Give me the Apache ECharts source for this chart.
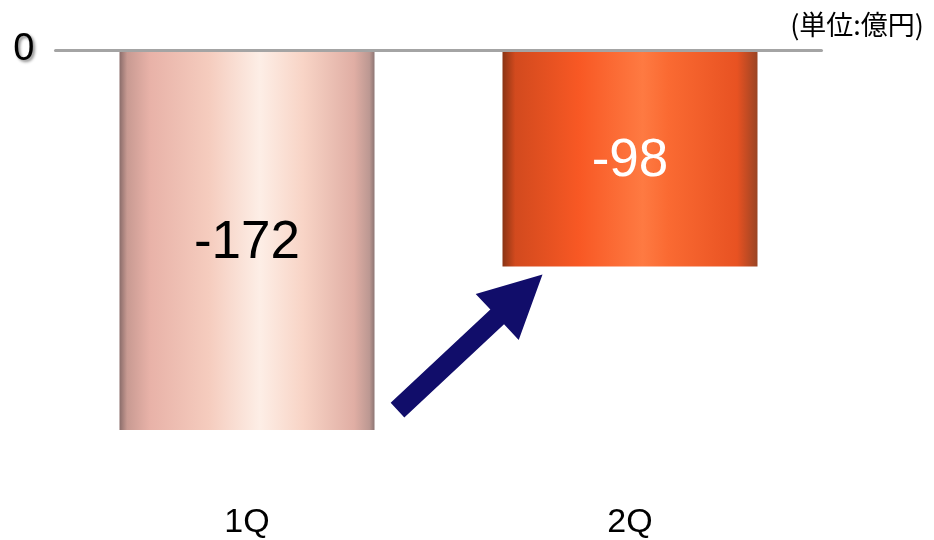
<!DOCTYPE html>
<html>
<head>
<meta charset="utf-8">
<script src="https://cdn.jsdelivr.net/npm/echarts@6/dist/echarts.min.js"></script>
<style>html,body{margin:0;padding:0;background:#fff}#c{width:934px;height:540px}</style>
</head>
<body>
<div id="c"></div>
<script>
var categories = ['1Q', '2Q'];
var values = [-172, -98];
var unitText = '(単位:億円)';
var yTickLabels = ['0'];

var chart = echarts.init(document.getElementById('c'), null, {renderer: 'canvas'});

var grad1 = new echarts.graphic.LinearGradient(0, 0, 1, 0, [
  {offset: 0, color: '#8a6c6a'},
  {offset: 0.03, color: '#c89a92'},
  {offset: 0.12, color: '#e8b2a8'},
  {offset: 0.35, color: '#f5ccbe'},
  {offset: 0.55, color: '#fdeee6'},
  {offset: 0.72, color: '#f8d4c6'},
  {offset: 0.92, color: '#e0aea4'},
  {offset: 0.98, color: '#bc9892'},
  {offset: 1, color: '#8e7674'}
]);
var grad2 = new echarts.graphic.LinearGradient(0, 0, 1, 0, [
  {offset: 0, color: '#8a3414'},
  {offset: 0.05, color: '#d24a1e'},
  {offset: 0.3, color: '#f85824'},
  {offset: 0.55, color: '#fe7a42'},
  {offset: 0.65, color: '#fa6a32'},
  {offset: 0.92, color: '#e85222'},
  {offset: 1, color: '#9a4424'}
]);
var fills = [grad1, grad2];
var labelColors = ['#000000', '#ffffff'];

var option = {
  animation: false,
  backgroundColor: '#ffffff',
  title: {
    text: unitText,
    right: 5,
    top: 6,
    textStyle: {fontFamily: '"Noto Sans CJK JP", "Liberation Sans", sans-serif', fontSize: 27, fontWeight: 'normal', color: '#000'}
  },
  grid: {left: 55.5, right: 112.5, top: 50, bottom: 46},
  xAxis: [{
    type: 'category',
    data: categories,
    position: 'bottom',
    axisLine: {show: false, onZero: false},
    axisTick: {show: false},
    axisLabel: {margin: 14, fontSize: 34, color: '#000', fontFamily: '"Liberation Sans", Arial, sans-serif'}
  }, {
    type: 'category',
    data: categories,
    position: 'top',
    axisLine: {show: true, onZero: false, lineStyle: {color: '#a4a4a4', width: 3}},
    axisTick: {show: false},
    axisLabel: {show: false},
    z: 10
  }],
  yAxis: {
    type: 'value',
    min: -200,
    max: 0,
    interval: 200,
    splitLine: {show: false},
    axisLine: {show: false},
    axisTick: {show: false},
    axisLabel: {
      margin: 21,
      fontSize: 38,
      color: '#000',
      fontFamily: '"Liberation Sans", Arial, sans-serif',
      textShadowColor: 'rgba(0,0,0,0.45)',
      textShadowBlur: 3,
      textShadowOffsetX: 2,
      textShadowOffsetY: 2,
      formatter: function (v) { return v === 0 ? yTickLabels[0] : ''; }
    }
  },
  series: [{
    type: 'bar',
    barWidth: 255,
    data: values.map(function (v, i) {
      return {
        value: v,
        itemStyle: {color: fills[i]},
        label: {
          show: true,
          position: 'inside',
          offset: [0, 3],
          color: labelColors[i],
          fontSize: 53,
          fontFamily: '"Liberation Sans", Arial, sans-serif'
        }
      };
    })
  }]
};
chart.setOption(option);

// Arrow annotation anchored to the bars
var barW = 255;
var p1 = chart.convertToPixel({xAxisIndex: 0, yAxisIndex: 0}, [categories[0], values[0]]);
var p2 = chart.convertToPixel({xAxisIndex: 0, yAxisIndex: 0}, [categories[1], values[1]]);
var tail = [p1[0] + barW / 2 + 23, p1[1] - 20];
var tip = [p2[0] - barW / 2 + 40, p2[1] + 8];
var dx = tip[0] - tail[0], dy = tip[1] - tail[1];
var len = Math.sqrt(dx * dx + dy * dy);
var ux = dx / len, uy = dy / len;
var nx = -uy, ny = ux;
var sh = 10, hh = 31.5, hl = 62;
var base = [tip[0] - ux * hl, tip[1] - uy * hl];
var pts = [
  [tail[0] + nx * sh, tail[1] + ny * sh],
  [base[0] + nx * sh, base[1] + ny * sh],
  [base[0] + nx * hh, base[1] + ny * hh],
  tip,
  [base[0] - nx * hh, base[1] - ny * hh],
  [base[0] - nx * sh, base[1] - ny * sh],
  [tail[0] - nx * sh, tail[1] - ny * sh]
];
chart.setOption({
  graphic: [{
    type: 'polygon',
    shape: {points: pts},
    style: {fill: '#110d6a'},
    z: 20
  }]
});
</script>
</body>
</html>
